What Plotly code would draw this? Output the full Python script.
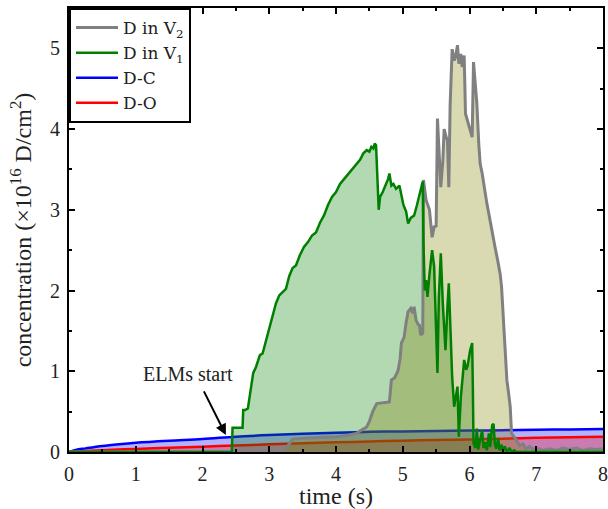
import plotly.graph_objects as go

# ---- data -------------------------------------------------------------
# D-C and D-O inventories (smooth, slowly saturating)
t_dc = [0, 0.1, 0.25, 0.5, 0.75, 1.0, 1.5, 2.0, 2.5, 3.0, 3.5, 4.0, 4.5, 5.0, 5.5, 6.0, 6.5, 7.0, 7.5, 8.0]
c_dc = [0, 0.025, 0.045, 0.075, 0.097, 0.115, 0.14, 0.16, 0.19, 0.21, 0.225, 0.24, 0.25, 0.255, 0.26, 0.265, 0.27, 0.275, 0.28, 0.285]

t_do = [0, 0.25, 0.5, 1.0, 1.5, 2.0, 2.5, 3.0, 3.5, 4.0, 4.5, 5.0, 5.5, 6.0, 6.5, 7.0, 7.5, 8.0]
c_do = [0, 0.012, 0.022, 0.038, 0.052, 0.066, 0.08, 0.095, 0.108, 0.12, 0.13, 0.14, 0.148, 0.156, 0.165, 0.175, 0.183, 0.19]

# D trapped in V1 vacancies
t_v1 = [0, 2.44, 2.45, 2.60, 2.61, 2.64, 2.68, 2.72, 2.76, 2.80, 2.86, 2.90, 2.95, 3.00,
        3.05, 3.10, 3.15, 3.20, 3.25, 3.30, 3.35, 3.40, 3.46, 3.52, 3.58, 3.64, 3.70,
        3.76, 3.82, 3.88, 3.94, 4.00, 4.06, 4.12, 4.18, 4.24, 4.30, 4.36, 4.41, 4.46,
        4.50, 4.53, 4.56, 4.58, 4.60, 4.62, 4.64, 4.66, 4.70, 4.74, 4.78, 4.80, 4.83,
        4.86, 4.90, 4.95, 4.98, 5.01, 5.05, 5.08, 5.12, 5.17, 5.21, 5.25, 5.28, 5.30,
        5.31, 5.33, 5.35, 5.37, 5.40, 5.44, 5.47, 5.50, 5.52, 5.54, 5.57, 5.60, 5.62,
        5.64, 5.67, 5.69, 5.72, 5.74, 5.77, 5.80, 5.82, 5.84, 5.87, 5.90, 5.92, 5.95,
        5.97, 6.01, 6.04, 6.05, 6.06, 6.09, 6.11, 6.13, 6.16, 6.19, 6.21, 6.24, 6.26,
        6.29, 6.31, 6.34, 6.36, 6.38, 6.40, 6.43, 6.45, 6.48, 6.50, 6.53, 6.56, 6.60,
        6.63, 6.67, 6.70, 8.0]
c_v1 = [0, 0, 0.30, 0.30, 0.52, 0.52, 0.54, 0.75, 0.98, 1.05, 1.20, 1.22, 1.38, 1.51,
        1.68, 1.84, 1.94, 1.98, 2.02, 2.18, 2.28, 2.31, 2.44, 2.54, 2.60, 2.68, 2.72,
        2.84, 2.93, 3.06, 3.16, 3.22, 3.32, 3.38, 3.44, 3.50, 3.56, 3.62, 3.70, 3.74,
        3.72, 3.78, 3.76, 3.82, 3.80, 3.35, 3.00, 3.16, 3.22, 3.30, 3.38, 3.45, 3.30,
        3.32, 3.26, 3.30, 3.18, 3.06, 2.98, 2.83, 2.90, 2.93, 3.05, 3.20, 3.30, 3.35,
        2.60, 2.00, 2.13, 1.92, 2.20, 2.50, 2.30, 1.60, 0.98, 1.90, 2.46, 1.84, 1.51,
        1.26, 1.80, 2.09, 1.40, 0.93, 0.56, 0.70, 0.81, 0.19, 0.68, 0.95, 1.14, 1.02,
        1.06, 1.26, 1.35, 0.80, 0.11, 0.05, 0.29, 0.03, 0.15, 0.27, 0.05, 0.12, 0.02,
        0.23, 0.06, 0.33, 0.35, 0.10, 0.04, 0.17, 0.02, 0.09, 0.01, 0.07, 0.00, 0.05,
        0.00, 0.02, 0.00, 0.00]

# D trapped in V2 vacancies
t_v2 = [0, 3.20, 3.30, 3.35, 3.50, 3.80, 4.00, 4.20, 4.30, 4.40, 4.46, 4.50, 4.55, 4.61,
        4.70, 4.80, 4.83, 4.88, 4.93, 4.96, 4.98, 5.02, 5.05, 5.08, 5.12, 5.15, 5.17,
        5.20, 5.23, 5.25, 5.27, 5.30, 5.31, 5.35, 5.40, 5.44, 5.47, 5.50, 5.52, 5.55,
        5.57, 5.60, 5.62, 5.65, 5.67, 5.69, 5.71, 5.74, 5.77, 5.79, 5.82, 5.84, 5.87,
        5.89, 5.92, 5.94, 5.97, 5.99, 6.02, 6.04, 6.06, 6.08, 6.11, 6.14, 6.16, 6.19,
        6.21, 6.24, 6.26, 6.29, 6.31, 6.34, 6.38, 6.43, 6.46, 6.48, 6.50, 6.51, 6.54,
        6.56, 6.59, 6.61, 6.63, 6.66, 6.70, 6.75, 6.80, 6.85, 6.90, 6.95, 7.00, 7.10,
        7.20, 7.30, 7.40, 7.50, 7.60, 7.70, 7.80, 7.90, 8.00]
c_v2 = [0, 0, 0.10, 0.16, 0.17, 0.18, 0.19, 0.21, 0.23, 0.28, 0.31, 0.38, 0.50, 0.60,
        0.61, 0.62, 0.89, 0.92, 1.01, 1.15, 1.35, 1.42, 1.60, 1.74, 1.78, 1.72, 1.80,
        1.63, 1.58, 1.57, 1.45, 1.47, 3.37, 3.12, 3.00, 2.66, 2.79, 2.80, 4.13, 3.50,
        3.28, 3.60, 4.00, 3.90, 3.86, 3.28, 4.30, 4.99, 4.85, 4.89, 5.04, 4.81, 4.93,
        4.77, 4.91, 4.19, 4.10, 4.03, 3.95, 3.90, 4.83, 4.60, 4.32, 3.80, 3.57, 3.45,
        3.33, 3.20, 3.08, 2.95, 2.87, 2.75, 2.55, 2.34, 2.20, 2.05, 1.75, 1.55, 1.10,
        0.89, 0.70, 0.56, 0.23, 0.20, 0.15, 0.08, 0.10, 0.04, 0.07, 0.03, 0.05, 0.02,
        0.04, 0.02, 0.05, 0.03, 0.05, 0.02, 0.04, 0.03, 0.04]

FONT = "Liberation Serif"
LEG_FONT = "DejaVu Serif"
TXT = "#222"

fig = go.Figure()

# D-C and D-O: shaded areas, then their outlines
fig.add_trace(go.Scatter(x=t_dc, y=c_dc, mode="none", fill="tozeroy",
                         fillcolor="rgba(0,0,255,0.3)", line=dict(shape="spline"),
                         showlegend=False, hoverinfo="skip"))
fig.add_trace(go.Scatter(x=t_dc, y=c_dc, mode="lines",
                         line=dict(color="blue", width=2.5, shape="spline"),
                         name="D-C", legendrank=3))
fig.add_trace(go.Scatter(x=t_do, y=c_do, mode="none", fill="tozeroy",
                         fillcolor="rgba(255,0,0,0.3)", line=dict(shape="spline"),
                         showlegend=False, hoverinfo="skip"))
fig.add_trace(go.Scatter(x=t_do, y=c_do, mode="lines",
                         line=dict(color="red", width=2.5, shape="spline"),
                         name="D-O", legendrank=4))

# vacancy inventories: fills first, then the outlines on top
fig.add_trace(go.Scatter(x=t_v1, y=c_v1, mode="none", fill="tozeroy",
                         fillcolor="rgba(0,128,0,0.3)", showlegend=False, hoverinfo="skip"))
fig.add_trace(go.Scatter(x=t_v2, y=c_v2, mode="none", fill="tozeroy",
                         fillcolor="rgba(128,128,0,0.3)", showlegend=False, hoverinfo="skip"))
fig.add_trace(go.Scatter(x=t_v2, y=c_v2, mode="lines", line=dict(color="gray", width=3),
                         name="D in V<sub>2</sub>", legendrank=1))
fig.add_trace(go.Scatter(x=t_v1, y=c_v1, mode="lines", line=dict(color="green", width=2.5),
                         name="D in V<sub>1</sub>", legendrank=2))

# ELM onset marker
fig.add_annotation(x=2.35, y=0.21, ax=2.01, ay=0.77, xref="x", yref="y", axref="x", ayref="y",
                   showarrow=True, arrowhead=2, arrowsize=1.1, arrowwidth=2, arrowcolor="black",
                   standoff=0, text="")
fig.add_annotation(x=1.79, y=0.97, xref="x", yref="y", text="ELMs start", showarrow=False,
                   font=dict(family=FONT, size=20, color=TXT))

axis_common = dict(
    showline=True, linewidth=2, linecolor="black", mirror="allticks",
    ticks="inside", ticklen=6, tickwidth=2, tickcolor="black",
    showgrid=False, zeroline=False, ticklabeloverflow="allow",
    tickfont=dict(family=FONT, size=20, color=TXT),
    minor=dict(ticks="inside", ticklen=3, tickwidth=2, tickcolor="black", dtick=0.5),
)

fig.update_xaxes(range=[0, 8], dtick=1, tick0=0, ticklabelstandoff=3,
                 title=dict(text="time (s)", font=dict(family=FONT, size=24, color=TXT), standoff=3),
                 **axis_common)
fig.update_yaxes(range=[0, 5.5], dtick=1, tick0=0, ticklabelstandoff=3,
                 title=dict(text="concentration (×10<sup>16</sup> D/cm<sup>2</sup>)",
                            font=dict(family=FONT, size=24, color=TXT), standoff=12),
                 **axis_common)

fig.update_layout(
    width=608, height=509,
    margin=dict(l=69, r=0, t=8, b=57),
    plot_bgcolor="white", paper_bgcolor="white",
    showlegend=True,
    legend=dict(x=0, y=1, xanchor="left", yanchor="top",
                bgcolor="white", bordercolor="black", borderwidth=2,
                font=dict(family=LEG_FONT, size=17, color=TXT),
                tracegroupgap=0, itemwidth=42),
)

fig.write_html("out.html")
